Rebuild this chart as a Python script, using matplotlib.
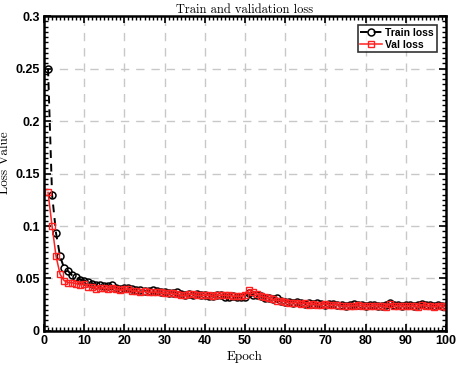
import numpy as np
import matplotlib
matplotlib.use("Agg")
import matplotlib.pyplot as plt
from matplotlib.ticker import MultipleLocator, FuncFormatter

epochs = np.arange(1, 101)

train_loss = [
    0.250, 0.130, 0.093, 0.071, 0.060, 0.057, 0.053, 0.051, 0.049, 0.048,
    0.047, 0.045, 0.044, 0.044, 0.043, 0.043, 0.044, 0.041, 0.040, 0.041,
    0.041, 0.040, 0.039, 0.039, 0.038, 0.038, 0.039, 0.038, 0.037, 0.037,
    0.036, 0.036, 0.037, 0.035, 0.034, 0.035, 0.034, 0.035, 0.034, 0.034,
    0.033, 0.033, 0.034, 0.034, 0.032, 0.032, 0.033, 0.032, 0.032, 0.032,
    0.036, 0.034, 0.034, 0.033, 0.031, 0.031, 0.030, 0.031, 0.029, 0.028,
    0.028, 0.027, 0.028, 0.027, 0.026, 0.027, 0.026, 0.027, 0.026, 0.025,
    0.026, 0.026, 0.025, 0.025, 0.024, 0.025, 0.026, 0.025, 0.025, 0.024,
    0.025, 0.025, 0.024, 0.024, 0.025, 0.027, 0.025, 0.025, 0.024, 0.025,
    0.025, 0.024, 0.025, 0.026, 0.025, 0.025, 0.024, 0.025, 0.024, 0.024,
]

val_loss = [
    0.132, 0.100, 0.071, 0.054, 0.048, 0.046, 0.046, 0.045, 0.044, 0.045,
    0.042, 0.042, 0.040, 0.041, 0.041, 0.040, 0.041, 0.040, 0.039, 0.040,
    0.040, 0.038, 0.038, 0.037, 0.038, 0.037, 0.037, 0.037, 0.037, 0.036,
    0.036, 0.036, 0.035, 0.034, 0.034, 0.035, 0.035, 0.034, 0.034, 0.034,
    0.034, 0.033, 0.034, 0.034, 0.034, 0.034, 0.033, 0.033, 0.033, 0.034,
    0.039, 0.037, 0.035, 0.033, 0.032, 0.031, 0.030, 0.029, 0.029, 0.028,
    0.027, 0.027, 0.027, 0.026, 0.027, 0.025, 0.026, 0.025, 0.025, 0.026,
    0.025, 0.025, 0.025, 0.024, 0.024, 0.024, 0.024, 0.025, 0.024, 0.024,
    0.024, 0.024, 0.024, 0.024, 0.023, 0.026, 0.024, 0.024, 0.024, 0.024,
    0.024, 0.024, 0.023, 0.025, 0.024, 0.024, 0.023, 0.024, 0.024, 0.023,
]

plt.rcParams["font.family"] = ["Liberation Sans", "DejaVu Sans"]

fig = plt.figure(figsize=(4.57, 3.65), dpi=100)
ax = fig.add_axes([0.0963, 0.0932, 0.8797, 0.8628])

ax.plot(epochs, train_loss, color="black", linestyle=(0, (4, 3)), linewidth=1.4,
        marker="o", markersize=5, markerfacecolor="none", markeredgewidth=1.1,
        label="Train loss")
ax.plot(epochs, val_loss, color="#ff2020", linestyle="-", linewidth=1.1,
        marker="s", markersize=4.5, markerfacecolor="none", markeredgewidth=1.0,
        label="Val loss")

ax.set_xlim(0, 100)
ax.set_ylim(0, 0.3)
ax.xaxis.set_major_locator(MultipleLocator(10))
ax.xaxis.set_minor_locator(MultipleLocator(1))
ax.yaxis.set_major_locator(MultipleLocator(0.05))
ax.yaxis.set_minor_locator(MultipleLocator(0.005))
ax.yaxis.set_major_formatter(FuncFormatter(lambda v, p: "%g" % round(v, 3)))

ax.tick_params(which="both", direction="in", top=True, right=True)
ax.tick_params(which="major", length=5, width=1.2, labelsize=9, pad=3)
ax.tick_params(which="minor", length=3, width=1.0)
for lab in ax.get_xticklabels() + ax.get_yticklabels():
    lab.set_fontweight("bold")
for sp in ax.spines.values():
    sp.set_linewidth(1.8)

ax.grid(True, which="major", color="#c8c8c8", linestyle=(0, (6, 5)), linewidth=1.0)

ax.set_title("Train and validation loss", fontfamily="cmr10", fontsize=9, pad=1)
ax.set_xlabel("Epoch", fontfamily="cmr10", fontsize=9.5, labelpad=3)
ax.set_ylabel("Loss Value", fontfamily="cmr10", fontsize=9.5)
ax.yaxis.set_label_coords(-0.082, 0.533)

leg = ax.legend(loc="upper right", prop={"weight": "bold", "size": 7.5},
                frameon=True, fancybox=False, edgecolor="black",
                handlelength=2.1, handletextpad=0.3, borderpad=0.25,
                labelspacing=0.15, borderaxespad=0.9)
leg.get_frame().set_linewidth(1.2)

fig.savefig("out.png", dpi=100)
